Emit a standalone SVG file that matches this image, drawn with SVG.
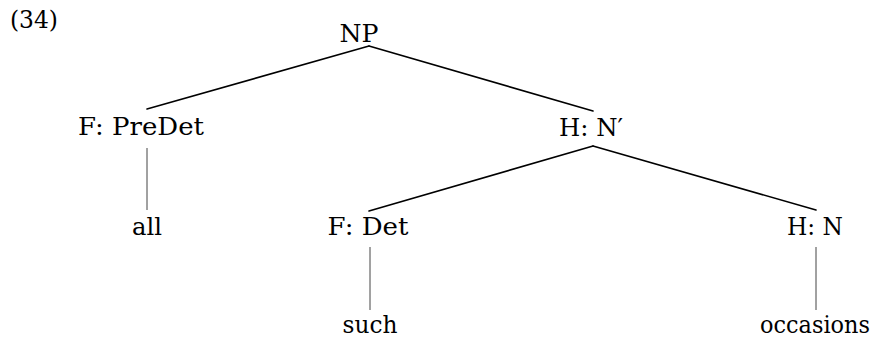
<svg xmlns="http://www.w3.org/2000/svg" width="875" height="341" viewBox="0 0 875 341">
<style>
text{font-family:'DejaVu Serif',serif;font-size:25px;fill:#000}
.m{text-anchor:middle}
.e{stroke:#000;stroke-width:1.6;fill:none;stroke-linecap:round}
.v{stroke:#444;stroke-width:1;fill:none}
</style>
<rect width="875" height="341" fill="#fff"/>
<text x="10" y="28" textLength="48" lengthAdjust="spacingAndGlyphs">(34)</text>
<g id="connectors">
<line class="e" x1="369" y1="46" x2="147" y2="109"/>
<line class="e" x1="369" y1="46" x2="593" y2="111"/>
<line class="e" x1="593" y1="146" x2="369" y2="211"/>
<line class="e" x1="593" y1="146" x2="816" y2="210"/>
<line class="v" x1="147" y1="148" x2="147" y2="210"/>
<line class="v" x1="370" y1="247" x2="370" y2="310"/>
<line class="v" x1="816" y1="247" x2="816" y2="310"/>
</g>
<g id="np"><text class="m" x="359" y="42" textLength="39" lengthAdjust="spacingAndGlyphs">NP</text></g>
<g id="predet"><text class="m" x="141" y="135" textLength="126" lengthAdjust="spacingAndGlyphs">F: PreDet</text></g>
<g id="nbar"><text class="m" x="591" y="136" textLength="64" lengthAdjust="spacingAndGlyphs">H: N′</text></g>
<g id="all"><text class="m" x="147" y="235" textLength="30" lengthAdjust="spacingAndGlyphs">all</text></g>
<g id="det"><text class="m" x="368" y="235" textLength="81" lengthAdjust="spacingAndGlyphs">F: Det</text></g>
<g id="n"><text class="m" x="815" y="235" textLength="56" lengthAdjust="spacingAndGlyphs">H: N</text></g>
<g id="such"><text class="m" x="370" y="333" textLength="55" lengthAdjust="spacingAndGlyphs">such</text></g>
<g id="occasions"><text x="760" y="333" font-size="22" textLength="110" lengthAdjust="spacingAndGlyphs">occasions</text></g>
</svg>
